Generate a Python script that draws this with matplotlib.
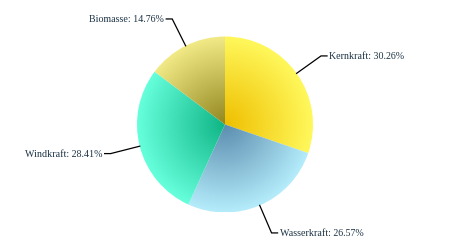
import numpy as np
import matplotlib.pyplot as plt
from matplotlib.colors import LinearSegmentedColormap

# data
labels = ["Kernkraft", "Wasserkraft", "Windkraft", "Biomasse"]
shares = [30.26, 26.57, 28.41, 14.76]
inner_colors = ["#efbf00", "#5b8cae", "#0fb585", "#928720"]
outer_colors = ["#fff85c", "#b4ecfb", "#66ffdc", "#f2ea86"]

W, H = 450, 250
cx, cy, R = 225, 250 - 124.5, 88

fig = plt.figure(figsize=(4.5, 2.5), dpi=100)
ax = fig.add_axes([0, 0, 1, 1])

wedges, _ = ax.pie(shares, center=(cx, cy), radius=R, startangle=90,
                   counterclock=False, frame=True,
                   wedgeprops=dict(linewidth=0, alpha=0))

# radial gradient per slice
xs = np.linspace(cx - R, cx + R, 400)
ys = np.linspace(cy - R, cy + R, 400)
gx, gy = np.meshgrid(xs, ys)
dist = np.sqrt((gx - cx) ** 2 + (gy - cy) ** 2) / R
for w, c0, c1 in zip(wedges, inner_colors, outer_colors):
    cmap = LinearSegmentedColormap.from_list("g", [c0, c1])
    im = ax.imshow(dist, cmap=cmap, vmin=0, vmax=1, origin="lower",
                   extent=(cx - R, cx + R, cy - R, cy + R), interpolation="bilinear")
    im.set_clip_path(w)

# leader lines and labels
total = sum(shares)
start = 90.0
for lab, s in zip(labels, shares):
    mid = np.deg2rad(start - s / total * 360 / 2)
    start -= s / total * 360
    x0, y0 = cx + R * np.cos(mid), cy + R * np.sin(mid)
    x1, y1 = cx + 118 * np.cos(mid), cy + 118 * np.sin(mid)
    side = 1 if np.cos(mid) >= 0 else -1
    x2 = x1 + 6 * side
    ax.plot([x0, x1, x2], [y0, y1, y1], color="black", lw=0.9,
            solid_joinstyle="miter")
    ax.text(x2 + 2 * side, y1 - 0.5, f"{lab}: {s:.2f}%", ha="left" if side > 0 else "right",
            va="center", fontsize=7.2, family="Liberation Serif", color="#1c3344")

ax.set_xlim(0, W)
ax.set_ylim(0, H)
ax.set_aspect("equal")
ax.axis("off")

fig.savefig("out.png", dpi=100)
